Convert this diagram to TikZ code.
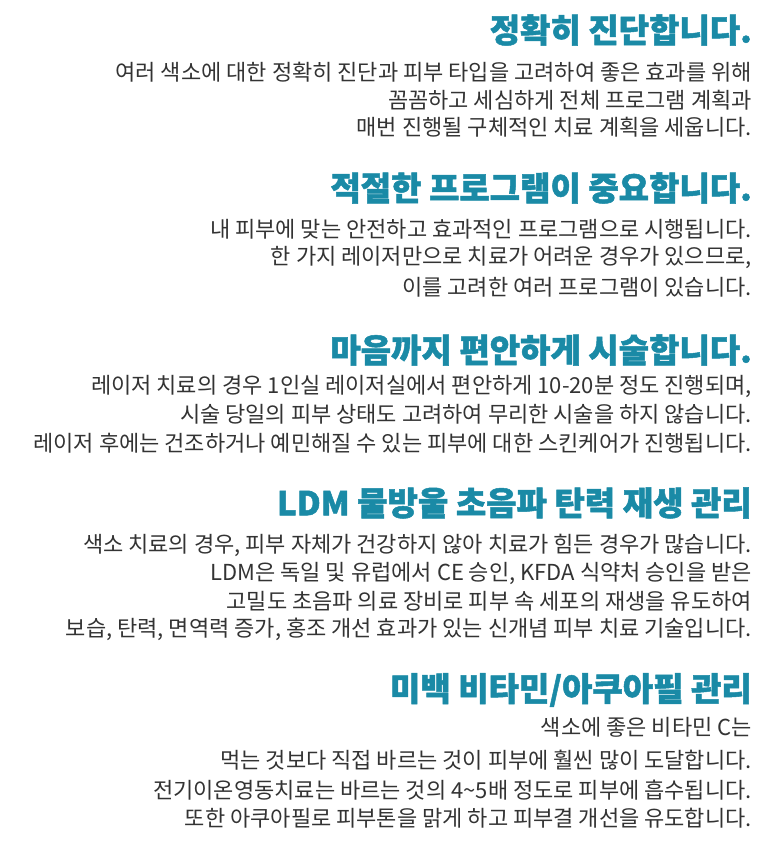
\documentclass[tikz,border=0pt]{standalone}
\usepackage{fontspec}
\setmainfont{Noto Sans CJK KR}
\newfontfamily\hfont{Noto Sans CJK KR}[FakeBold=1.5]
\definecolor{teal}{HTML}{1A8AA6}
\definecolor{body}{HTML}{333333}
\begin{document}
\begin{tikzpicture}[x=1pt,y=-1pt,
 h/.style={anchor=east,inner sep=0pt,text=teal,font=\hfont\fontsize{33}{35}\selectfont\bfseries},
 b/.style={anchor=east,inner sep=0pt,text=body,font=\fontsize{22}{24}\selectfont}]
\useasboundingbox (0,0) rectangle (768,850);
\node[h] (h1) at (752,30) {정확히 진단합니다.};
\node[b] (a1) at (752,72) {여러 색소에 대한 정확히 진단과 피부 타입을 고려하여 좋은 효과를 위해};
\node[b] (a2) at (752,100) {꼼꼼하고 세심하게 전체 프로그램 계획과};
\node[b] (a3) at (752,127) {매번 진행될 구체적인 치료 계획을 세웁니다.};
\node[h] (h2) at (752,188) {적절한 프로그램이 중요합니다.};
\node[b] (b1) at (752,229) {내 피부에 맞는 안전하고 효과적인 프로그램으로 시행됩니다.};
\node[b] (b2) at (752,257) {한 가지 레이저만으로 치료가 어려운 경우가 있으므로,};
\node[b] (b3) at (752,287) {이를 고려한 여러 프로그램이 있습니다.};
\node[h] (h3) at (752,350) {마음까지 편안하게 시술합니다.};
\node[b] (c1) at (752,386) {레이저 치료의 경우 1인실 레이저실에서 편안하게 10-20분 정도 진행되며,};
\node[b] (c2) at (752,414) {시술 당일의 피부 상태도 고려하여 무리한 시술을 하지 않습니다.};
\node[b] (c3) at (752,443) {레이저 후에는 건조하거나 예민해질 수 있는 피부에 대한 스킨케어가 진행됩니다.};
\node[h] (h4) at (752,503) {LDM 물방울 초음파 탄력 재생 관리};
\node[b] (d1) at (752,545) {색소 치료의 경우, 피부 자체가 건강하지 않아 치료가 힘든 경우가 많습니다.};
\node[b] (d2) at (752,573) {LDM은 독일 및 유럽에서 CE 승인, KFDA 식약처 승인을 받은};
\node[b] (d3) at (752,601) {고밀도 초음파 의료 장비로 피부 속 세포의 재생을 유도하여};
\node[b] (d4) at (752,629) {보습, 탄력, 면역력 증가, 홍조 개선 효과가 있는 신개념 피부 치료 기술입니다.};
\node[h] (h5) at (752,690) {미백 비타민/아쿠아필 관리};
\node[b] (e1) at (752,727) {색소에 좋은 비타민 C는};
\node[b] (e2) at (752,760) {먹는 것보다 직접 바르는 것이 피부에 훨씬 많이 도달합니다.};
\node[b] (e3) at (752,790) {전기이온영동치료는 바르는 것의 4\textasciitilde5배 정도로 피부에 흡수됩니다.};
\node[b] (e4) at (752,818) {또한 아쿠아필로 피부톤을 맑게 하고 피부결 개선을 유도합니다.};
\end{tikzpicture}
\end{document}
